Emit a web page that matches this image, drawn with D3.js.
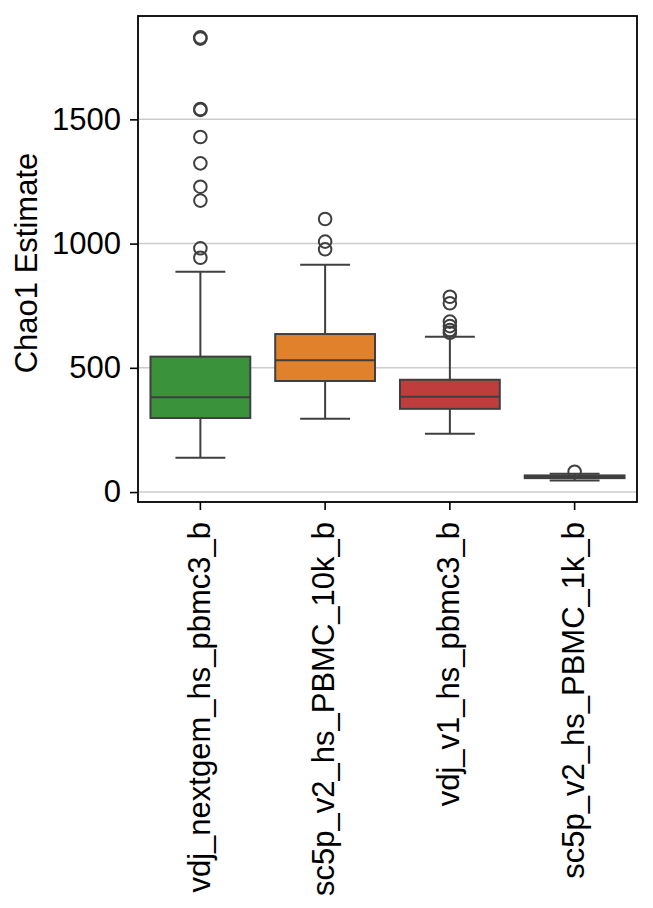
<!DOCTYPE html>
<html>
<head>
<meta charset="utf-8">
<script src="https://cdn.jsdelivr.net/npm/d3@7"></script>
<style>
  body { margin: 0; background: #fff; }
  svg text { font-family: "Liberation Sans", Arial, sans-serif; fill: #000; }
</style>
</head>
<body>
<div class="container"></div>
<script>
var WIDTH = 653;
var HEIGHT = 908;

var categories = ["vdj_nextgem_hs_pbmc3_b", "sc5p_v2_hs_PBMC_10k_b", "vdj_v1_hs_pbmc3_b", "sc5p_v2_hs_PBMC_1k_b"];
var whiskerLow = [138, 295, 235, 47];
var q1 = [298, 447, 335, 56];
var median = [382, 531, 384, 61];
var q3 = [545, 636, 452, 67];
var whiskerHigh = [887, 915, 625, 74];
var outliers = [
  [1825, 1830, 1538, 1542, 1429, 1323, 1229, 1173, 981, 943],
  [1099, 1008, 977],
  [786, 760, 686, 668, 652, 641],
  [82]
];
var boxColors = ["#3a923a", "#e1812c", "#c03d3e", "#9372b2"];
var yTicks = [0, 500, 1000, 1500];

var translate = function (x, y) {
  return 'translate(' + x + ',' + y + ')';
};

var loadChart = function () {
  var margin = {left: 138, top: 16, right: 16, bottom: 406};
  var w = WIDTH - margin.left - margin.right;   // 499
  var h = HEIGHT - margin.top - margin.bottom;  // 486
  var edge = '#3f3f3f';
  var fontSize = 31;

  var xScale = d3.scaleBand()
    .domain(categories)
    .range([0, w])
    .padding(0);

  var yScale = d3.scaleLinear()
    .domain([-40, 1916])
    .range([h, 0]);

  var svg = d3.select('.container').append('svg')
    .attr('width', WIDTH)
    .attr('height', HEIGHT);

  var g = svg.append('g').attr('transform', translate(margin.left, margin.top));

  // grid
  g.selectAll('.grid').data(yTicks).enter()
    .append('line')
    .attr('x1', 0).attr('x2', w)
    .attr('y1', function (d) { return yScale(d); })
    .attr('y2', function (d) { return yScale(d); })
    .attr('stroke', '#cccccc')
    .attr('stroke-width', 1.5);

  var boxW = xScale.bandwidth() * 0.8;
  var capW = boxW / 2;

  var rows = categories.map(function (c, i) {
    return {cat: c, lo: whiskerLow[i], q1: q1[i], med: median[i], q3: q3[i], hi: whiskerHigh[i], out: outliers[i], color: boxColors[i]};
  });

  var boxes = g.selectAll('.box').data(rows).enter()
    .append('g')
    .attr('transform', function (d) { return translate(xScale(d.cat) + xScale.bandwidth() / 2, 0); });

  // whiskers
  boxes.append('line')
    .attr('x1', 0).attr('x2', 0)
    .attr('y1', function (d) { return yScale(d.hi); })
    .attr('y2', function (d) { return yScale(d.lo); })
    .attr('stroke', edge).attr('stroke-width', 2);

  boxes.selectAll('.cap')
    .data(function (d) { return [d.lo, d.hi]; }).enter()
    .append('line')
    .attr('x1', -capW / 2).attr('x2', capW / 2)
    .attr('y1', function (v) { return yScale(v); })
    .attr('y2', function (v) { return yScale(v); })
    .attr('stroke', edge).attr('stroke-width', 2);

  boxes.append('rect')
    .attr('x', -boxW / 2)
    .attr('width', boxW)
    .attr('y', function (d) { return yScale(d.q3); })
    .attr('height', function (d) { return yScale(d.q1) - yScale(d.q3); })
    .attr('fill', function (d) { return d.color; })
    .attr('stroke', edge).attr('stroke-width', 2);

  boxes.append('line')
    .attr('x1', -boxW / 2).attr('x2', boxW / 2)
    .attr('y1', function (d) { return yScale(d.med); })
    .attr('y2', function (d) { return yScale(d.med); })
    .attr('stroke', edge).attr('stroke-width', 2);

  boxes.selectAll('.flier')
    .data(function (d) { return d.out; }).enter()
    .append('circle')
    .attr('cx', 0)
    .attr('cy', function (v) { return yScale(v); })
    .attr('r', 6.3)
    .attr('fill', 'none')
    .attr('stroke', edge).attr('stroke-width', 2);

  // axes
  var yAxis = d3.axisLeft(yScale).tickValues(yTicks).tickFormat(d3.format('d')).tickSize(8).tickPadding(9);
  var yG = g.append('g').call(yAxis);
  yG.select('.domain').remove();
  yG.selectAll('.tick line').attr('stroke', '#000').attr('stroke-width', 1.6);
  yG.selectAll('.tick text')
    .attr('font-size', fontSize)
    .style('font-family', '"Liberation Sans", Arial, sans-serif');

  var xAxis = d3.axisBottom(xScale).tickSize(8).tickFormat('');
  var xG = g.append('g').attr('transform', translate(0, h)).call(xAxis);
  xG.select('.domain').remove();
  xG.selectAll('.tick line').attr('stroke', '#000').attr('stroke-width', 1.6);

  g.selectAll('.xlab').data(categories).enter()
    .append('text')
    .attr('transform', function (d) { return translate(xScale(d) + xScale.bandwidth() / 2, h + 20) + ' rotate(-90)'; })
    .attr('text-anchor', 'end')
    .attr('dy', '0.3em')
    .attr('font-size', fontSize)
    .text(function (d) { return d; });

  // frame
  g.append('rect')
    .attr('width', w).attr('height', h)
    .attr('fill', 'none')
    .attr('stroke', '#000').attr('stroke-width', 1.8);

  svg.append('text')
    .attr('transform', translate(37, margin.top + h / 2 + 4) + ' rotate(-90)')
    .attr('text-anchor', 'middle')
    .attr('font-size', fontSize)
    .text('Chao1 Estimate');
};

window.onload = loadChart;
</script>
</body>
</html>
